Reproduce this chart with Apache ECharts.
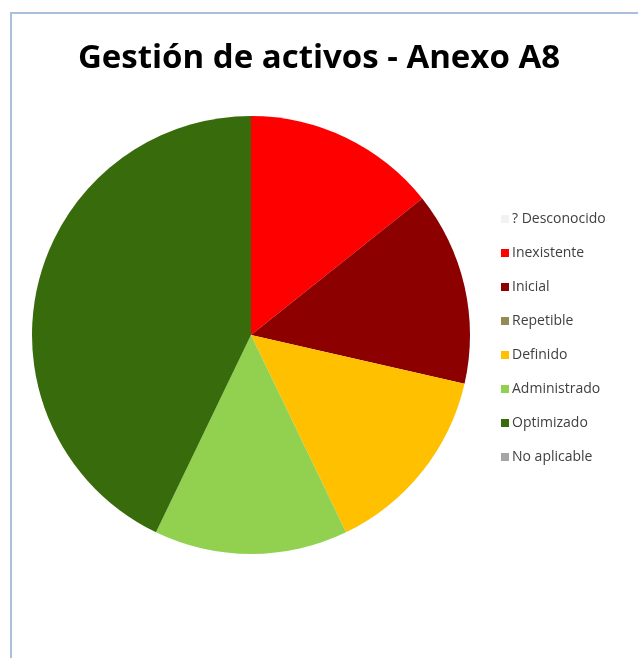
<!DOCTYPE html>
<html><head><meta charset="utf-8">
<script src="https://cdn.jsdelivr.net/npm/echarts@6/dist/echarts.min.js"></script>
<style>html,body{margin:0;padding:0;background:#fff}#c{width:638px;height:658px}</style>
</head><body><div id="c"></div>
<script>
const title = 'Gestión de activos - Anexo A8';
const categories = ['? Desconocido','Inexistente','Inicial','Repetible','Definido','Administrado','Optimizado','No aplicable'];
const values = [0,1,1,0,1,1,3,0];
const colors = ['#f2f2f2','#ff0000','#8c0000','#948a54','#ffc000','#92d050','#386b0c','#a6a6a6'];

const chart = echarts.init(document.getElementById('c'));
chart.setOption({
  animation:false,
  backgroundColor:'#fff',
  title:{text:title,left:'center',top:37,itemGap:0,
    textStyle:{fontFamily:'Open Sans',fontWeight:'bold',fontSize:33,color:'#000'}},
  graphic:[{type:'rect',shape:{x:11,y:13,width:700,height:700},
    style:{fill:'none',stroke:'#a9c0dc',lineWidth:2},silent:true}],
  legend:{orient:'vertical',left:496,top:207,itemWidth:8,itemHeight:8,itemGap:20,
    icon:'rect',data:categories,
    textStyle:{fontFamily:'Open Sans',fontSize:14,color:'#404040',padding:[0,0,0,-2]}},
  series:[{type:'pie',center:[251,335],radius:219,startAngle:90,clockwise:true,
    label:{show:false},labelLine:{show:false},
    itemStyle:{borderWidth:0},
    emphasis:{disabled:true},
    data:categories.map((n,i)=>({name:n,value:values[i],itemStyle:{color:colors[i]}}))}]
});
</script></body></html>
